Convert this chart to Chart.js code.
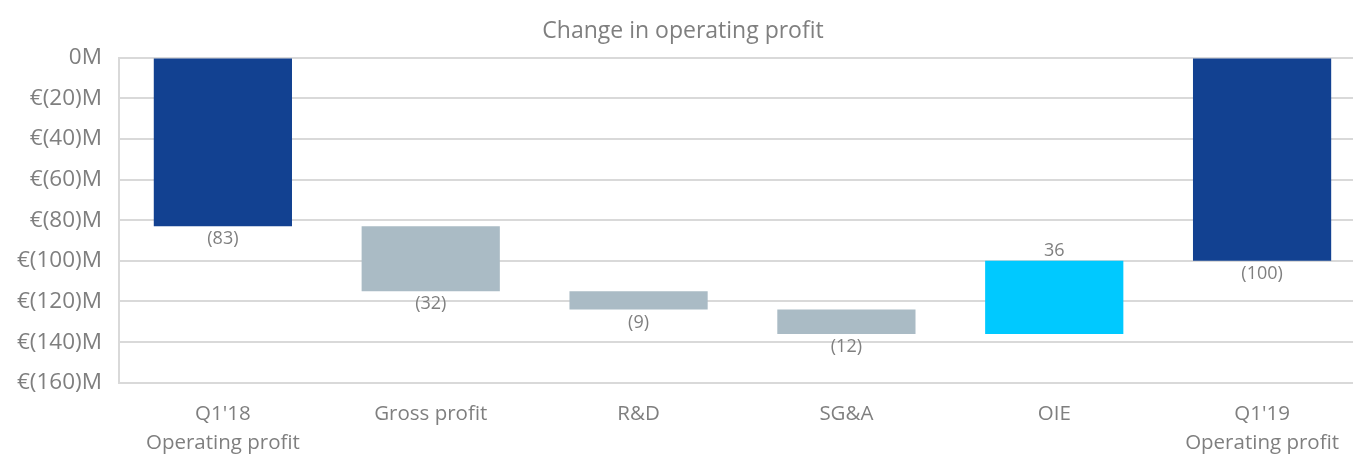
<!DOCTYPE html>
<html>
<head>
<meta charset="utf-8">
<script src="https://cdn.jsdelivr.net/npm/chart.js@4"></script>
<style>
  html, body { margin: 0; padding: 0; background: #fff; overflow: hidden; }
  #wrap { width: 1366px; height: 467px; }
</style>
</head>
<body>
<div id="wrap"><canvas id="grafico"></canvas></div>
<script>
const categorias = [["Q1'18", "Operating profit"], "Gross profit", "R&D", "SG&A", "OIE", ["Q1'19", "Operating profit"]];
const variacoes = [-83, -32, -9, -12, 36, -100];
const totais = [true, false, false, false, false, true];
const yTicks = [0, -20, -40, -60, -80, -100, -120, -140, -160];

const AZUL = "#124191";
const CINZA = "#aabbc5";
const CIANO = "#00c9ff";
const TEXTO = "#7f7f7f";
const FONTE = "'Open Sans', 'Noto Sans', sans-serif";

// monta as barras flutuantes a partir das variacoes
let acumulado = 0;
const barras = variacoes.map((v, i) => {
  if (totais[i]) {
    acumulado = v;
    return [0, v];
  }
  const inicio = acumulado;
  acumulado += v;
  return [inicio, acumulado];
});
const cores = variacoes.map((v, i) => totais[i] ? AZUL : v < 0 ? CINZA : CIANO);

const rotulos = {
  id: "rotulos",
  afterDatasetsDraw(chart) {
    const ctx = chart.ctx;
    const meta = chart.getDatasetMeta(0);
    ctx.save();
    ctx.font = "18px " + FONTE;
    ctx.fillStyle = TEXTO;
    ctx.textAlign = "center";
    meta.data.forEach((bar, i) => {
      const v = variacoes[i];
      const txt = v < 0 ? `(${-v})` : `${v}`;
      const props = bar.getProps(["x", "y", "base"], true);
      if (v < 0) {
        ctx.textBaseline = "top";
        ctx.fillText(txt, props.x, Math.max(props.y, props.base) + 4);
      } else {
        ctx.textBaseline = "bottom";
        ctx.fillText(txt, props.x, Math.min(props.y, props.base) - 1);
      }
    });
    ctx.restore();
  }
};

new Chart(document.getElementById("grafico").getContext("2d"), {
  type: "bar",
  data: {
    labels: categorias,
    datasets: [{
      data: barras,
      backgroundColor: cores,
      borderWidth: 0,
      categoryPercentage: 1,
      barPercentage: 0.665
    }]
  },
  options: {
    responsive: true,
    maintainAspectRatio: false,
    animation: false,
    layout: { padding: { left: 0, right: 0, top: 0, bottom: 0 } },
    plugins: {
      legend: { display: false },
      tooltip: { enabled: false },
      title: {
        display: true,
        text: "Change in operating profit",
        color: TEXTO,
        font: { family: FONTE, size: 23, weight: "normal" },
        padding: { top: 18, bottom: 12 }
      }
    },
    scales: {
      x: {
        grid: { display: false },
        border: { color: "#d9d9d9", width: 2 },
        ticks: {
          color: TEXTO,
          font: { family: FONTE, size: 20.5, lineHeight: 1.42 },
          padding: 9,
          maxRotation: 0,
          autoSkip: false
        }
      },
      y: {
        min: -160,
        max: 0,
        afterBuildTicks(axis) {
          axis.ticks = yTicks.map(v => ({ value: v }));
        },
        grid: { color: "#d9d9d9", lineWidth: 2, drawTicks: false },
        border: { color: "#d9d9d9", width: 2 },
        ticks: {
          color: TEXTO,
          font: { family: FONTE, size: 22.5 },
          padding: 17,
          callback: v => v === 0 ? "0M" : `€(${-v})M`
        }
      }
    }
  },
  plugins: [rotulos]
});
</script>
</body>
</html>
